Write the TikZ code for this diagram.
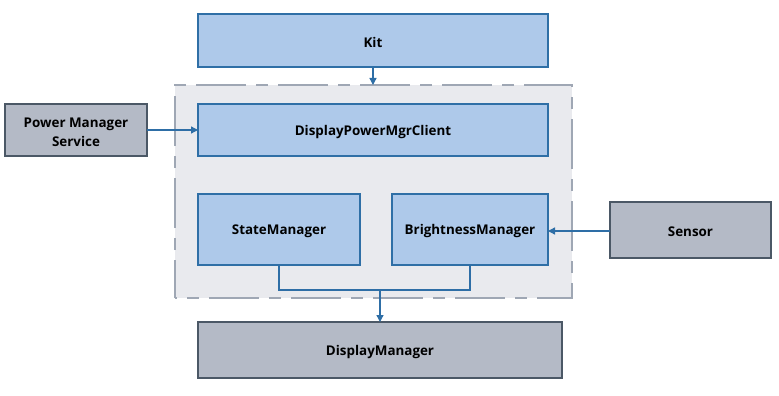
\documentclass[tikz,border=0pt]{standalone}
\usepackage{fontspec}
\setmainfont{Open Sans}
\usetikzlibrary{arrows.meta}
\definecolor{bluefill}{HTML}{AEC9EA}
\definecolor{blueline}{HTML}{2F6FA6}
\definecolor{greyfill}{HTML}{B4BAC6}
\definecolor{greyline}{HTML}{4B5866}
\definecolor{groupfill}{HTML}{E9EAEE}
\definecolor{groupline}{HTML}{9FA7B4}
\definecolor{arrowcol}{HTML}{2E6EA6}
\begin{document}
\begin{tikzpicture}[x=1pt,y=-1pt,
  lbl/.style={font=\fontsize{13.4}{15}\selectfont\bfseries, align=center, yshift=-2pt},
  bluebox/.style={draw=blueline, fill=bluefill, line width=1.3pt},
  greybox/.style={draw=greyline, fill=greyfill, line width=1.3pt},
  link/.style={draw=arrowcol, line width=1.3pt},
  arr/.style={link, -{Triangle[length=7pt,width=7pt]}}]
\useasboundingbox (0,0) rectangle (779,396);
% dashed group frame
\draw[fill=groupfill, draw=groupline, line width=2pt,
      dash pattern=on 50pt off 10pt on 12pt off 10pt, dash phase=12pt] (175,298) -- (175,85) -- (572,85) -- (572,298) -- cycle;
% boxes
\draw[bluebox] (198,14) rectangle (548,67);
\node[lbl] (kit) at (373,40.5) {Kit};
\draw[bluebox] (198,104) rectangle (548,156);
\node[lbl] (dpmc) at (373,130) {DisplayPowerMgrClient};
\draw[bluebox] (198,194) rectangle (360,265);
\node[lbl] (sm) at (279,229.5) {StateManager};
\draw[bluebox] (392,194) rectangle (548,265);
\node[lbl] (bm) at (470,229.5) {BrightnessManager};
\draw[greybox] (5,104) rectangle (147,156);
\node[lbl] (pms) at (76,130) {Power Manager\\[4pt]Service};
\draw[greybox] (610,202) rectangle (771,258);
\node[lbl] (sensor) at (690.5,230) {Sensor};
\draw[greybox] (198,322) rectangle (562,378);
\node[lbl] (dm) at (380,350) {DisplayManager};
% connector anchors on box edges
\coordinate (kitB) at (373,67);
\coordinate (grpT) at (373,85);
\coordinate (pmsR) at (147,130);
\coordinate (dpmcL) at (198,130);
\coordinate (senL) at (610,231);
\coordinate (bmR) at (548,231);
\coordinate (smB) at (279,265);
\coordinate (bmB) at (470,265);
\coordinate (join) at (380,290);
\coordinate (dmT) at (380,322);
% connectors
\draw[arr] (kitB) -- (grpT);
\draw[arr] (pmsR) -- (dpmcL);
\draw[arr] (senL) -- (bmR);
\draw[link] (smB) |- (join) -| (bmB);
\draw[arr] (join) -- (dmT);
\end{tikzpicture}
\end{document}
